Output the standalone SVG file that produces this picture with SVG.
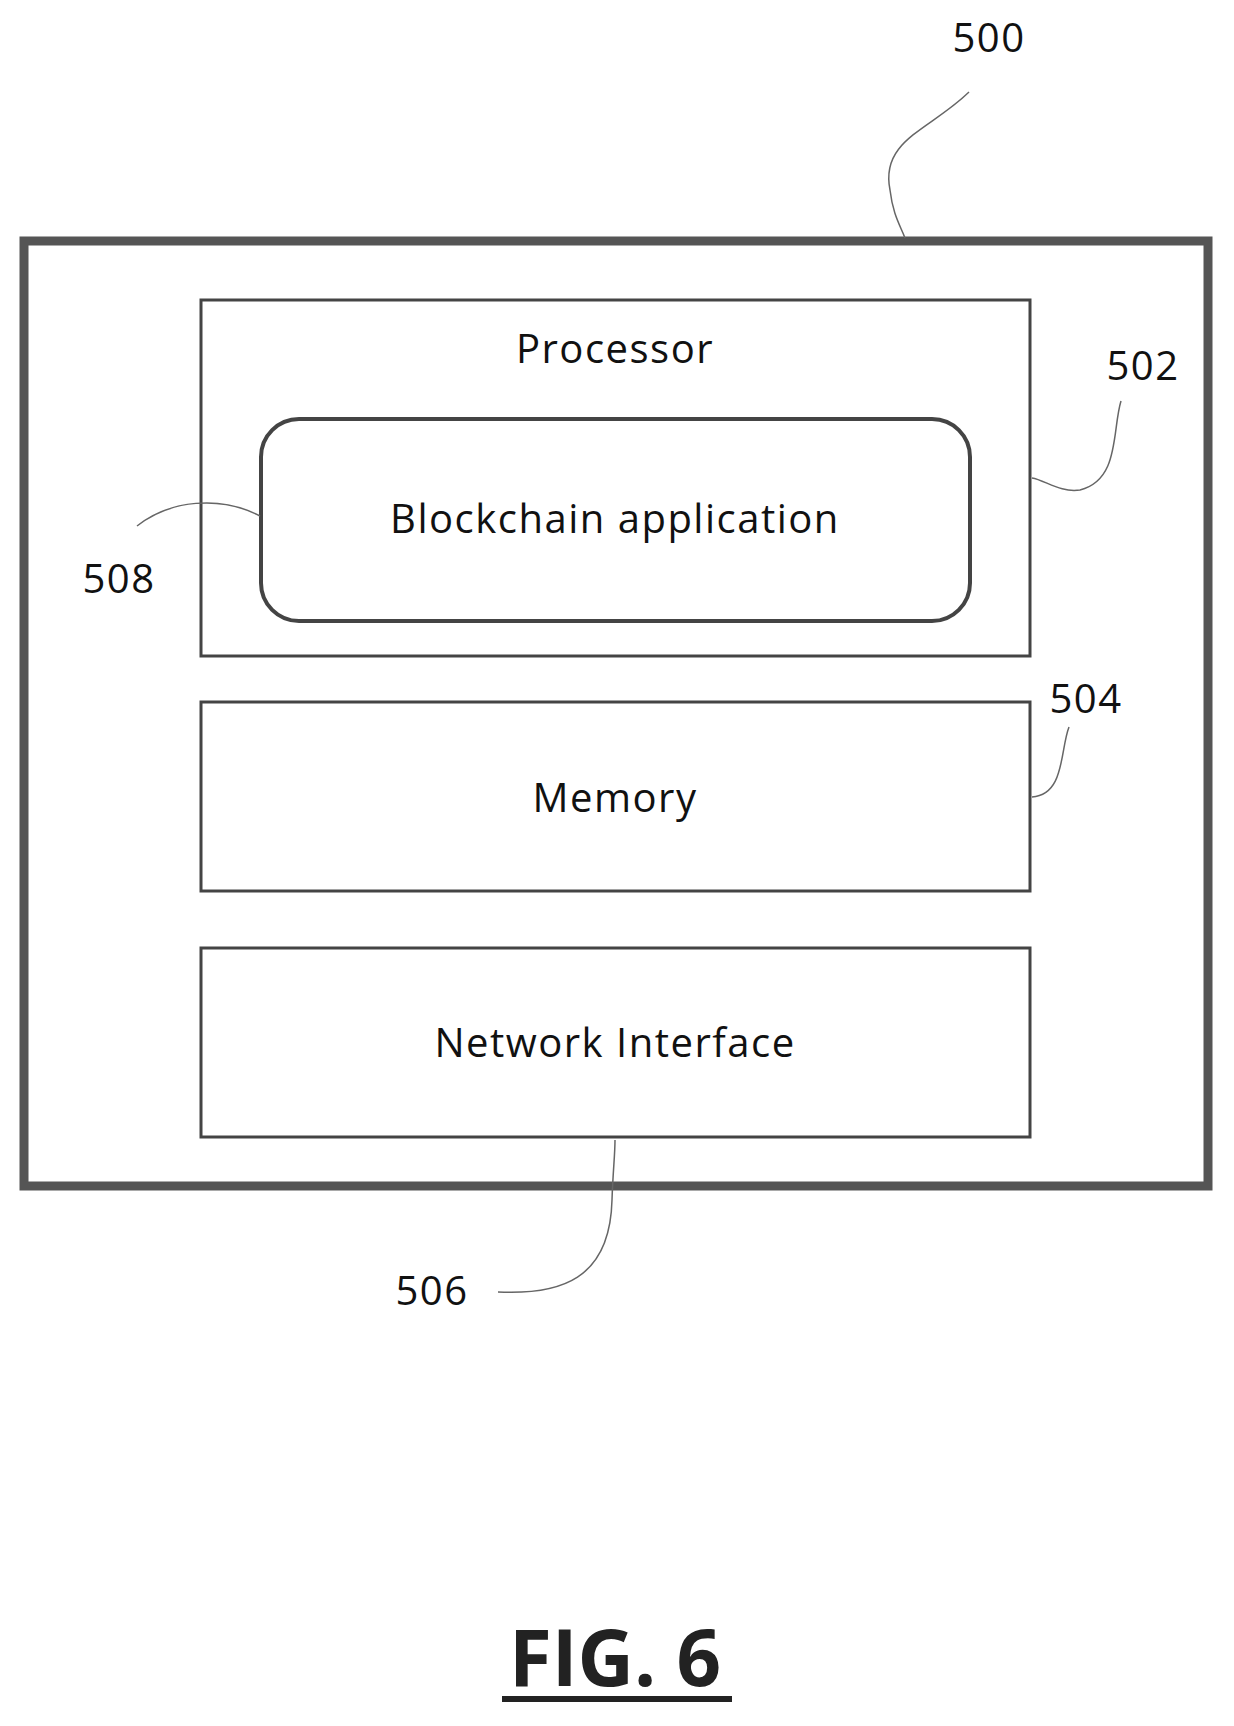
<svg xmlns="http://www.w3.org/2000/svg" width="1234" height="1726" viewBox="0 0 1234 1726">
<style>
.box{fill:none;stroke:#444;stroke-width:3}
.t{font-family:"Open Sans","Liberation Sans",sans-serif;font-size:40px;fill:#111;text-anchor:middle;letter-spacing:1.5px}
.lead{fill:none;stroke:#666;stroke-width:1.5}
</style>
<rect width="1234" height="1726" fill="#fff"/>
<g id="n500"><rect x="24" y="241" width="1184" height="945" fill="none" stroke="#555" stroke-width="9"/><text class="t" x="989" y="52">500</text></g>
<g id="n502"><rect class="box" x="201" y="300" width="829" height="356"/><text class="t" x="615" y="363">Processor</text><text class="t" x="1143" y="380">502</text></g>
<g id="n508"><rect x="261" y="419" width="709" height="202" rx="38" fill="none" stroke="#444" stroke-width="4"/><text class="t" x="615" y="533">Blockchain application</text><text class="t" x="119" y="593">508</text></g>
<g id="n504"><rect class="box" x="201" y="702" width="829" height="189"/><text class="t" x="615" y="812">Memory</text><text class="t" x="1086" y="713">504</text></g>
<g id="n506"><rect class="box" x="201" y="948" width="829" height="189"/><text class="t" x="615" y="1057">Network Interface</text><text class="t" x="432" y="1305">506</text></g>
<g id="connectors">
<path class="lead" d="M969,92 C930,130 880,140 890,190 C893,215 900,225 905,238"/>
<path class="lead" d="M1121,401 C1112,430 1120,480 1080,490 C1060,493 1045,480 1032,478"/>
<path class="lead" d="M1069,727 C1060,750 1065,795 1032,797"/>
<path class="lead" d="M137,526 C170,500 220,495 260,516"/>
<path class="lead" d="M498,1292 C560,1295 610,1280 612,1200 C613,1170 615,1155 615,1140"/>
</g>
<g id="title"><text x="615" y="1686" font-family="'Open Sans','Liberation Sans',sans-serif" font-size="78" font-weight="bold" text-anchor="middle" fill="#222">FIG. 6</text><rect x="502" y="1696" width="230" height="6" fill="#222"/></g>
</svg>
